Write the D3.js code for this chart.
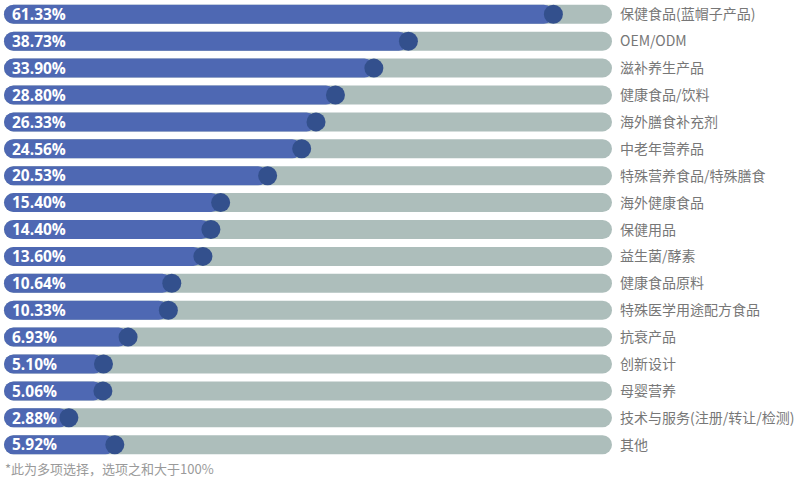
<!DOCTYPE html>
<html>
<head>
<meta charset="utf-8">
<script src="https://cdn.jsdelivr.net/npm/d3@7"></script>
<style>
  body { margin: 0; background: #fff; }
  svg { display: block; font-family: "Noto Sans CJK SC", "Open Sans", sans-serif; }
</style>
</head>
<body>
<svg width="800" height="480"></svg>
<script>
const categories = ['保健食品(蓝帽子产品)', 'OEM/ODM', '滋补养生产品', '健康食品/饮料', '海外膳食补充剂',
  '中老年营养品', '特殊营养食品/特殊膳食', '海外健康食品', '保健用品', '益生菌/酵素', '健康食品原料',
  '特殊医学用途配方食品', '抗衰产品', '创新设计', '母婴营养', '技术与服务(注册/转让/检测)', '其他']
const values = [61.33, 38.73, 33.90, 28.80, 26.33, 24.56, 20.53, 15.40, 14.40, 13.60, 10.64,
  10.33, 6.93, 5.10, 5.06, 2.88, 5.92]
const note = '*此为多项选择，选项之和大于100%'

const svg = d3.select('svg')
const barH = 19
const trackX0 = 4, trackX1 = 612

// the source picture does not place bars linearly, a pow scale follows it best
const x = d3.scalePow().exponent(0.65).domain([0, 65]).range([-8, 575])
const y = d3.scaleBand().domain(categories).range([1, 458]).paddingInner(0.29).paddingOuter(0.14)

const row = svg.selectAll('g.row')
  .data(categories)
  .join('g')
  .attr('class', 'row')
  .attr('transform', d => `translate(0,${y(d) + y.bandwidth() / 2})`)

row.append('rect')
  .attr('x', trackX0)
  .attr('y', -barH / 2)
  .attr('width', trackX1 - trackX0)
  .attr('height', barH)
  .attr('rx', barH / 2)
  .attr('fill', '#adbebb')

row.append('rect')
  .attr('x', trackX0)
  .attr('y', -barH / 2)
  .attr('width', (d, i) => x(values[i]) - trackX0)
  .attr('height', barH)
  .attr('rx', barH / 2)
  .attr('fill', '#4e68b3')

row.append('circle')
  .attr('cx', (d, i) => x(values[i]))
  .attr('r', barH / 2)
  .attr('fill', '#33508d')

row.append('text')
  .attr('x', 12)
  .attr('dy', '0.37em')
  .attr('fill', '#fff')
  .attr('font-size', 15.5)
  .attr('font-weight', 'bold')
  .attr('font-family', '"Open Sans", sans-serif')
  .text((d, i) => values[i].toFixed(2) + '%')

row.append('text')
  .attr('x', 620)
  .attr('dy', '0.36em')
  .attr('fill', '#777')
  .attr('font-size', 14)
  .text(d => d)

svg.append('text')
  .attr('x', 5)
  .attr('y', 474)
  .attr('fill', '#9a9a9a')
  .attr('font-size', 13)
  .text(note)
</script>
</body>
</html>
